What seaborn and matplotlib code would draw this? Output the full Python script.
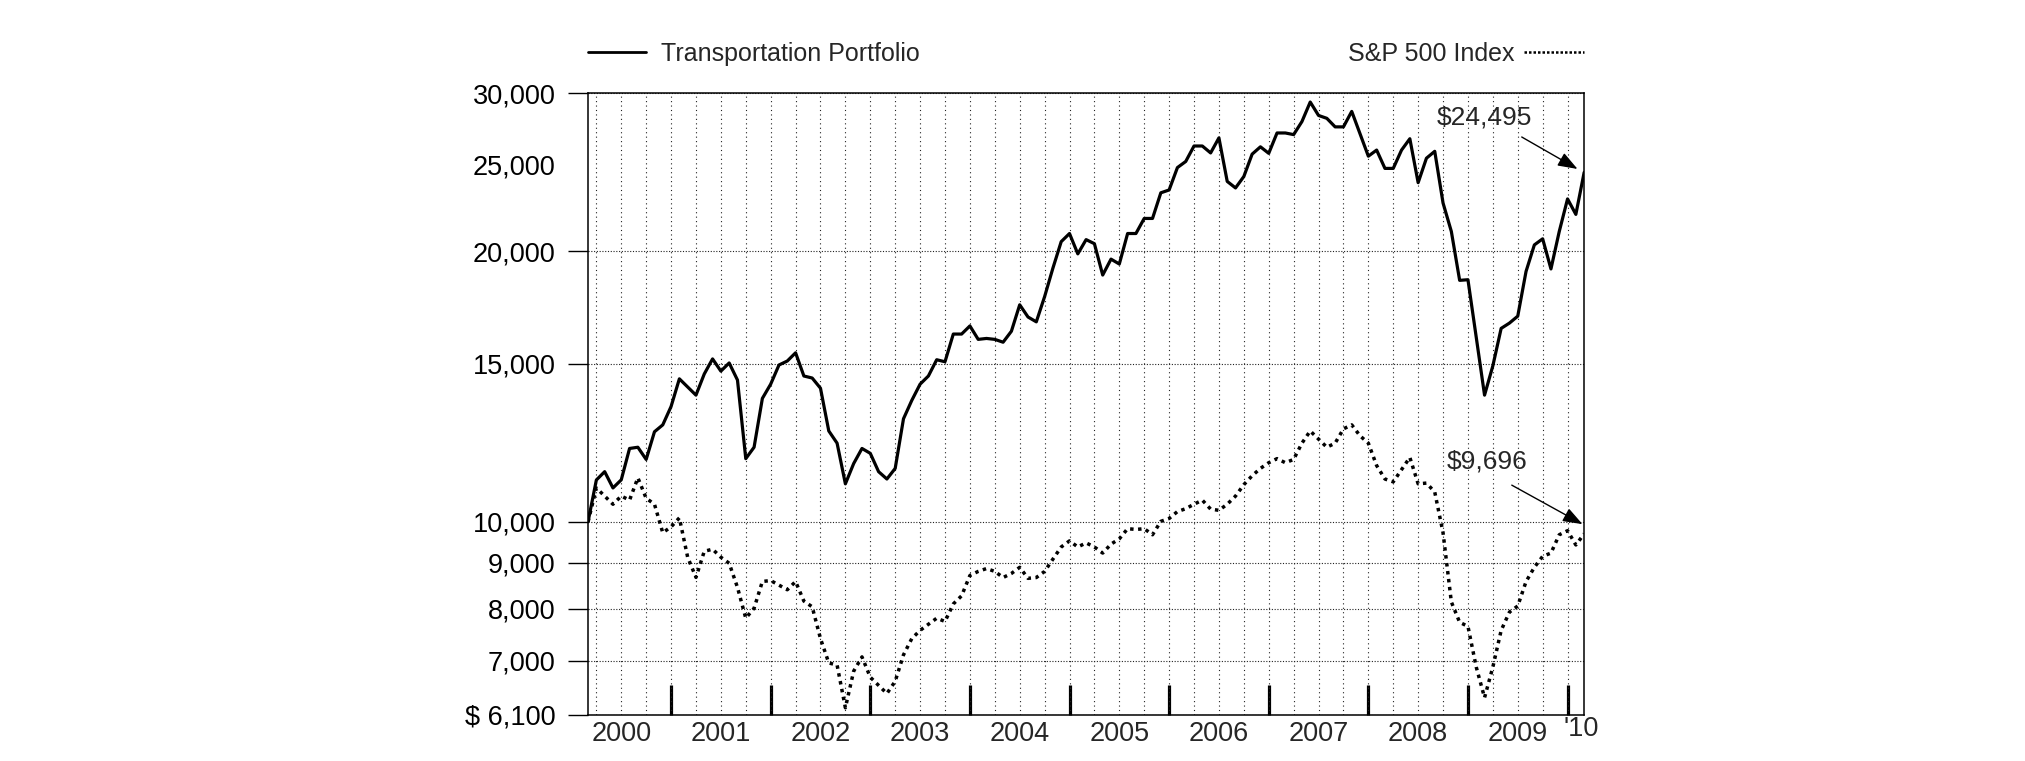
import pandas as pd
import matplotlib
matplotlib.use('Agg')
import matplotlib.pyplot as plt
import matplotlib.ticker as mticker
import matplotlib.transforms as mtransforms
from matplotlib.lines import Line2D
import seaborn as sns

# growth of $10,000, month-end values from Feb 2000 to Feb 2010
transport = [10000, 11130, 11370, 10905, 11135, 12067, 12105, 11732, 12595, 12820,
             13437, 14426, 14127, 13835, 14607, 15182, 14714, 15025, 14381, 11756,
             12105, 13720, 14230, 14947, 15100, 15422, 14531, 14456, 14083, 12621,
             12232, 11020, 11610, 12067, 11917, 11370, 11158, 11465, 13022, 13650,
             14230, 14531, 15150, 15071, 16181, 16181, 16522, 15962, 16000, 15962,
             15846, 16299, 17443, 16905, 16696, 17810, 19161, 20508, 20940, 19875,
             20615, 20400, 18825, 19608, 19364, 20940, 20940, 21765, 21765, 23243,
             23413, 24797, 25188, 26208, 26208, 25746, 26760, 23933, 23536, 24235,
             25666, 26153, 25720, 27098, 27098, 26985, 27902, 29336, 28343, 28135,
             27525, 27525, 28639, 27042, 25533, 25935, 24745, 24745, 25935, 26700,
             23856, 25400, 25854, 22644, 21050, 18570, 18600, 16046, 13835, 14915,
             16418, 16643, 16941, 19002, 20337, 20657, 19122, 21050, 22882, 21993,
             24495]
sp500 = [10000, 10905, 10680, 10459, 10680, 10570, 11193, 10620, 10460, 9722,
         9870, 10100, 9130, 8670, 9270, 9320, 9130, 8990, 8450, 7810,
         8010, 8580, 8600, 8500, 8400, 8578, 8159, 8040, 7411, 6962,
         6925, 6206, 6818, 7071, 6712, 6573, 6437, 6642, 7108, 7411,
         7568, 7688, 7808, 7744, 8099, 8270, 8713, 8804, 8869, 8804,
         8667, 8758, 8897, 8649, 8667, 8804, 9085, 9373, 9521, 9373,
         9472, 9373, 9228, 9442, 9571, 9824, 9804, 9824, 9672, 10010,
         10084, 10264, 10340, 10459, 10569, 10329, 10297, 10459, 10680, 10997,
         11252, 11465, 11634, 11756, 11634, 11732, 12232, 12621, 12360, 12105,
         12232, 12688, 12820, 12465, 12232, 11550, 11158, 11077, 11429, 11793,
         11020, 11042, 10792, 9722, 8141, 7727, 7647, 6889, 6370, 6889,
         7568, 7932, 8057, 8578, 8897, 9151, 9228, 9672, 9773, 9422,
         9696]
start_year = 2000
start_month = 2
year_labels = ['2000', '2001', '2002', '2003', '2004', '2005', '2006', '2007', '2008', '2009']
y_ticks = [6100, 7000, 8000, 9000, 10000, 15000, 20000, 25000, 30000]
y_labels = ['$ 6,100', '7,000', '8,000', '9,000', '10,000', '15,000', '20,000', '25,000', '30,000']

x = [start_year + (start_month + k) / 12 for k in range(len(transport))]
df = pd.DataFrame({'date': x, 'Transportation Portfolio': transport, 'S&P 500 Index': sp500})

sns.set_style('white')
plt.rcParams['font.family'] = ['Liberation Sans', 'DejaVu Sans']

fig = plt.figure(figsize=(20.25, 7.61), dpi=100)
ax = fig.add_axes([0.2904, 0.0611, 0.4919, 0.8163])

sns.lineplot(data=df, x='date', y='Transportation Portfolio', color='black', lw=2.3, ax=ax, zorder=3)
sns.lineplot(data=df, x='date', y='S&P 500 Index', color='black', lw=2.5,
             linestyle=(0, (1, 1.3)), dash_capstyle='butt', ax=ax, zorder=3)
if ax.get_legend() is not None:
    ax.get_legend().remove()

ax.set_yscale('log')
ax.set_ylim(6100, 30000)
ax.set_xlim(x[0], x[-1])
ax.set_xlabel('')
ax.set_ylabel('')

# y axis
ax.yaxis.set_major_locator(mticker.FixedLocator(y_ticks))
ax.yaxis.set_major_formatter(mticker.FixedFormatter(y_labels))
ax.yaxis.set_minor_locator(mticker.NullLocator())
ax.tick_params(axis='y', which='major', direction='out', length=14.4, width=1.0,
               pad=9, labelsize=19.5, left=True, colors='black')

# x axis: tall year ticks, quarter grid lines
ax.xaxis.set_major_locator(mticker.FixedLocator(list(range(2001, 2011))))
ax.xaxis.set_major_formatter(mticker.NullFormatter())
ax.xaxis.set_minor_locator(mticker.FixedLocator([2000.25 + 0.25 * k for k in range(40)]))
ax.xaxis.remove_overlapping_locs = False
ax.tick_params(axis='x', which='major', direction='in', length=21.6, width=2.3,
               bottom=True, top=False, color='black')
ax.tick_params(axis='x', which='minor', length=0)

ax.grid(True, axis='x', which='minor', color='#222222', lw=0.8, ls=(0, (1, 3)))
ax.grid(True, axis='y', which='major', color='#222222', lw=0.8, ls=(0, (1, 1.5)))
ax.set_axisbelow(True)

for tk, val in zip(ax.yaxis.get_major_ticks(), y_ticks):
    if val == 25000:
        tk.tick1line.set_visible(False)
        tk.gridline.set_visible(False)

for s in ax.spines.values():
    s.set_color('black')
    s.set_linewidth(1.1)

trans = mtransforms.blended_transform_factory(ax.transData, ax.transAxes)
for k, lab in enumerate(year_labels):
    ax.text(int(lab) + 0.5, -0.01, lab, transform=trans, ha='center', va='top', fontsize=19.5)
ax.text(2009.96, -0.002, "'10", transform=trans, ha='left', va='top', fontsize=19.5)

# end-value callouts
ax.text(2009.17, 28230, '$24,495', ha='center', va='center', fontsize=19)
ax.annotate('', xy=(2010.10, 24709), xytext=(2009.54, 26820),
            arrowprops=dict(arrowstyle='-|>,head_length=0.6,head_width=0.22',
                            color='black', lw=1.0, mutation_scale=20, shrinkA=0, shrinkB=0))
ax.text(2009.19, 11656, '$9,696', ha='center', va='center', fontsize=19)
ax.annotate('', xy=(2010.15, 9938), xytext=(2009.44, 10984),
            arrowprops=dict(arrowstyle='-|>,head_length=0.6,head_width=0.22',
                            color='black', lw=1.0, mutation_scale=20, shrinkA=0, shrinkB=0))

# legends above the plot
h1 = Line2D([], [], color='black', lw=2.0)
leg1 = ax.legend([h1], ['Transportation Portfolio'], loc='center left',
                 bbox_to_anchor=(0, 1.0636), frameon=False, fontsize=18,
                 handlelength=2.3, handletextpad=0.6, borderpad=0, borderaxespad=0)
ax.add_artist(leg1)
h2 = Line2D([], [], color='black', lw=1.8, ls=(0, (1, 0.8)))
ax.legend([h2], ['S&P 500 Index'], loc='center right', bbox_to_anchor=(1, 1.0636),
          markerfirst=False, frameon=False, fontsize=18,
          handlelength=2.4, handletextpad=0.4, borderpad=0, borderaxespad=0)

fig.savefig('out.png', dpi=100)
